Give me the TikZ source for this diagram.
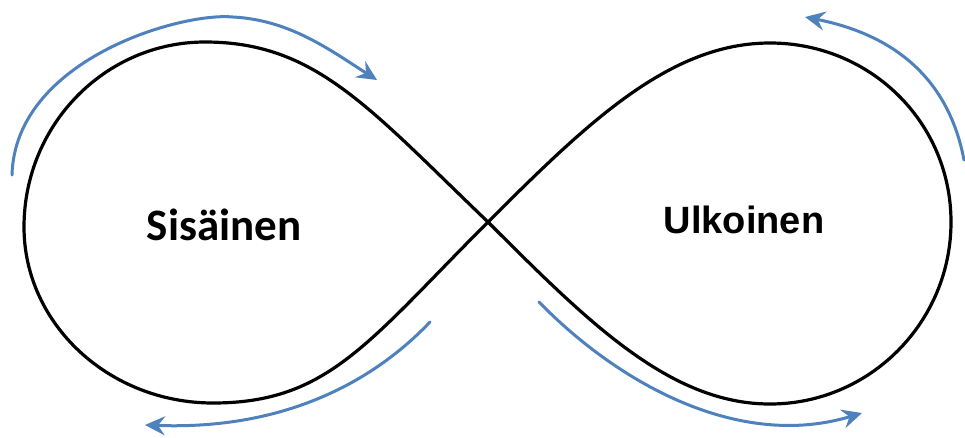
\documentclass[tikz,border=0pt]{standalone}
\usepackage{fontspec}
\newfontfamily\leftfont{Carlito}
\newfontfamily\rightfont{Liberation Sans}
\usetikzlibrary{arrows.meta}
\definecolor{loopblue}{RGB}{79,129,189}
\begin{document}
\begin{tikzpicture}[x=1pt,y=-1pt,
  loopline/.style={line width=3.2pt, black, line join=round},
  flow/.style={line width=3pt, loopblue, line cap=round,
    -{Stealth[length=20pt,width=19pt,inset=7pt]}},
  label/.style={anchor=base, inner sep=0pt}
  ]
\useasboundingbox (0,0) rectangle (965,437);
\fill[white] (0,0) rectangle (965,437);

% figure-eight loop through the crossing point
\coordinate (C) at (488,222);
\draw[loopline]
  (C) .. controls (368,107) and (315,42) .. (205,42)
      .. controls (105,42) and (24,125) .. (24,227)
      .. controls (24,324) and (109,403) .. (213,403)
      .. controls (328,403) and (368,342) .. (C)
      .. controls (588,122) and (670,43) .. (770,43)
      .. controls (870,43) and (951,122) .. (951,222)
      .. controls (951,322) and (870,404) .. (770,404)
      .. controls (670,404) and (588,322) .. (C);

% direction arrows
\draw[flow] (12,175) .. controls (15,60) and (180,12) .. (233,17)
                     .. controls (290,20) and (330,50) .. (377,80);
\draw[flow] (964,160) .. controls (945,60) and (870,30) .. (805,17);
\draw[flow] (430,322) .. controls (370,385) and (280,430) .. (145,425);
\draw[flow] (539,302) .. controls (620,385) and (740,450) .. (862,413);

% lobe labels
\node[label] (inner) at (224,240) {\leftfont\bfseries\fontsize{45}{54}\selectfont Sisäinen};
\node[label] (outer) at (744,233) {\rightfont\bfseries\fontsize{38}{46}\selectfont Ulkoinen};
\end{tikzpicture}
\end{document}
